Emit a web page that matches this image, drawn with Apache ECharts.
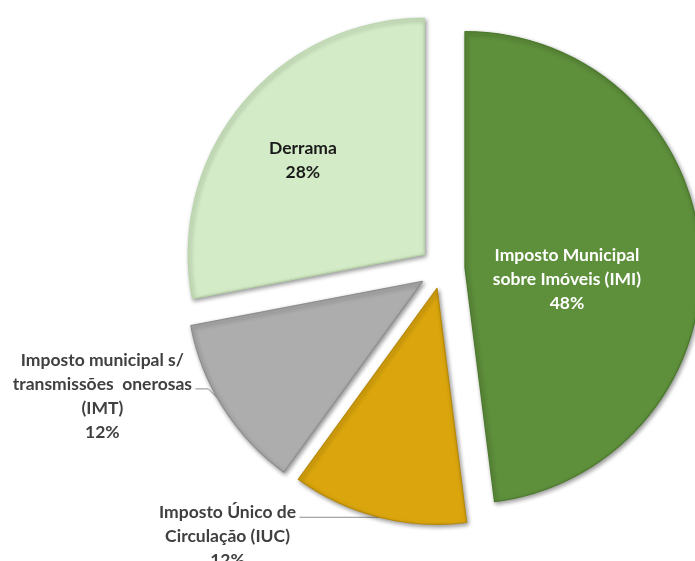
<!DOCTYPE html>
<html>
<head>
<meta charset="utf-8">
<script src="https://cdn.jsdelivr.net/npm/echarts@6/dist/echarts.min.js"></script>
<style>
  html, body { margin: 0; padding: 0; background: #ffffff; }
  #chart { width: 695px; height: 561px; }
</style>
</head>
<body>
<div id="chart"></div>
<script>
// Municipal tax revenue shares (percent)
const categories = [
  'Imposto Municipal\nsobre Imóveis (IMI)',
  'Imposto Único de\nCirculação (IUC)',
  'Imposto municipal s/\ntransmissões  onerosas\n(IMT)',
  'Derrama'
];
const shares = [48, 12, 12, 28];
const sliceColors = ['#5e8f3b', '#dba60d', '#adadad', '#d3ebc6'];
const edgeColors = ['#4b7a2c', '#b88a06', '#8e8e8e', '#b9d6aa'];
const labelColors = ['#ffffff', '#404040', '#404040', '#1a1a1a'];
const labelInside = [true, false, false, true];
const explode = [23, 20, 23, 23];

// pie geometry
const CX = 442, CY = 269, R = 236;

function sliceGeom(i) {
  const total = shares.reduce((a, b) => a + b, 0);
  let start = 0;
  for (let k = 0; k < i; k++) start += shares[k] / total * 360;
  const end = start + shares[i] / total * 360;
  const mid = (start + end) / 2;
  const rad = mid * Math.PI / 180;
  return { mid, sx: CX + explode[i] * Math.sin(rad), sy: CY - explode[i] * Math.cos(rad) };
}
function polar(g, angleDeg, dist) {
  const a = angleDeg * Math.PI / 180;
  return [g.sx + dist * Math.sin(a), g.sy - dist * Math.cos(a)];
}

// where each label sits, relative to its own slice
const labelSpots = [
  { angleShift: 10, frac: 0.435 },                                // IMI, inside
  { angleShift: -0.3, lead: [[-80, 0]], text: [-72, 19] },        // IUC, outside
  { angleShift: 2.8, lead: [[-9, -9], [-13, 0]], text: [-93, 7] }, // IMT, outside
  { angleShift: -1.8, frac: 0.651 }                               // Derrama, inside
];

function layoutFor(i) {
  return function (params) {
    if (params.dataIndex !== i) return {};
    const g = sliceGeom(i);
    const spot = labelSpots[i];
    const ang = g.mid + spot.angleShift;
    if (labelInside[i]) {
      const p = polar(g, ang, spot.frac * R);
      return { x: p[0], y: p[1], align: 'center', verticalAlign: 'middle' };
    }
    const pts = [polar(g, ang, R)];
    spot.lead.forEach(d => {
      const last = pts[pts.length - 1];
      pts.push([last[0] + d[0], last[1] + d[1]]);
    });
    const tail = pts[pts.length - 1];
    return {
      x: tail[0] + spot.text[0],
      y: tail[1] + spot.text[1],
      align: 'center',
      verticalAlign: 'middle',
      labelLinePoints: pts
    };
  };
}

// one pie per slice so each wedge can be pulled out by its own distance;
// every pie shares the same values, and only its own wedge is painted
const series = categories.map((_, s) => {
  const g = sliceGeom(s);
  return {
    type: 'pie',
    center: [g.sx, g.sy],
    radius: R,
    startAngle: 90,
    clockwise: true,
    silent: true,
    avoidLabelOverlap: false,
    emphasis: { disabled: true },
    labelLayout: layoutFor(s),
    data: categories.map((name, i) => {
      const own = i === s;
      return {
        name,
        value: shares[i],
        itemStyle: own ? {
          color: sliceColors[i],
          borderColor: edgeColors[i],
          borderWidth: 1.2,
          shadowBlur: 4,
          shadowColor: 'rgba(0,0,0,0.4)',
          shadowOffsetX: 1.5,
          shadowOffsetY: 2
        } : { color: 'rgba(0,0,0,0)', borderWidth: 0, shadowBlur: 0 },
        label: own ? {
          show: true,
          position: labelInside[i] ? 'inside' : 'outside',
          formatter: '{b}\n{c}%',
          color: labelColors[i],
          fontFamily: 'Lato',
          fontWeight: 'bold',
          fontSize: 17.5,
          lineHeight: 24,
          align: 'center'
        } : { show: false },
        labelLine: own && !labelInside[i] ? {
          show: true,
          lineStyle: { color: '#8c8c8c', width: 1 }
        } : { show: false }
      };
    })
  };
});

const chart = echarts.init(document.getElementById('chart'), null, { renderer: 'canvas' });
chart.setOption({
  backgroundColor: '#ffffff',
  animation: false,
  series
});
</script>
</body>
</html>
